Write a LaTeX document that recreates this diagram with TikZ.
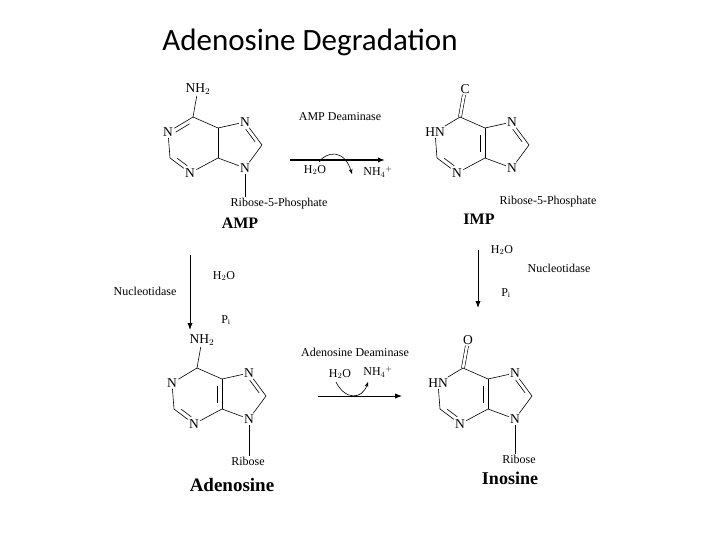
\documentclass[tikz,border=0pt]{standalone}
\usepackage{fontspec}
\setmainfont{Liberation Serif}
\newfontfamily\titlefont{Carlito}
\usetikzlibrary{calc,arrows.meta}
\tikzset{atomlbl/.style={inner sep=1.2pt,font=\fontsize{13.5}{14}\selectfont},
 lbl/.style={inner sep=1pt,font=\fontsize{12}{13}\selectfont},
 bond/.style={line width=0.6pt},
 molname/.style={inner sep=1pt,font=\fontsize{16}{18}\selectfont\bfseries}}
\newcommand\dbl[3]{\draw[bond] (#1)--(#2);
 \draw[bond,shorten <=4pt,shorten >=4pt] ($(#1)!0.17!(#3)$)--($(#2)!0.17!(#3)$);}
\newcommand\purine[7]{%
\begin{scope}[shift={(#2,#3)}]
\coordinate (#1c6) at (0,0);
\node[atomlbl] (#1n1) at (-25,15) {#5};
\coordinate (#1c2) at (-23,41);
\node[atomlbl] (#1n3) at (-3,56) {N};
\coordinate (#1c4) at (25,41);
\coordinate (#1c5) at (25,11);
\node[atomlbl] (#1n7) at (52,5) {N};
\coordinate (#1c8) at (69,28);
\node[atomlbl] (#1n9) at (52,51) {N};
\coordinate (#1h) at (0,28);
\coordinate (#1p) at (42,28);
\node[atomlbl] (#1top) at (5,-28) {#4};
\end{scope}
\ifnum#7=1 \draw[bond,double,double distance=2.5pt] (#1c6)--(#1top);
\else \draw[bond] (#1c6)--(#1top);\fi
\ifnum#6=0 \dbl{#1c6}{#1n1}{#1h}\else \draw[bond] (#1c6)--(#1n1);\fi
\draw[bond] (#1n1)--(#1c2);
\dbl{#1c2}{#1n3}{#1h}
\draw[bond] (#1n3)--(#1c4);
\ifnum#6=0 \draw[bond] (#1c4)--(#1c5);\else \dbl{#1c4}{#1c5}{#1h}\fi
\draw[bond] (#1c5)--(#1c6);
\draw[bond] (#1c5)--(#1n7);
\dbl{#1n7}{#1c8}{#1p}
\draw[bond] (#1c8)--(#1n9);
\draw[bond] (#1n9)--(#1c4);
}
\begin{document}
\begin{tikzpicture}[x=1pt,y=-1pt]
\useasboundingbox (0,0) rectangle (720,540);
\node[font=\titlefont\fontsize{31}{34}\selectfont] (title) at (310,42) {Adenosine Degradation};
% AMP
\purine{a}{193}{117}{NH$_2$}{N}{0}{0}
\node[lbl] (arib) at (279,204) {Ribose-5-Phosphate};
\draw[bond] (an9)--(an9|-arib.north);
\node[molname] (amp) at (240,223) {AMP};
% IMP
\purine{i}{460}{117}{C}{HN}{1}{1}
\node[lbl] (irib) at (548,202) {Ribose-5-Phosphate};
\node[molname] (imp) at (479,219) {IMP};
% Adenosine
\purine{d}{197}{368}{NH$_2$}{N}{2}{0}
\node[lbl] (drib) at (248,461) {Ribose};
\draw[bond] (dn9)--(dn9|-drib.north);
\node[font=\fontsize{19}{20}\selectfont\bfseries,inner sep=1pt] (ado) at (232,485) {Adenosine};
% Inosine
\purine{n}{463}{368}{O}{HN}{3}{1}
\node[lbl] (nrib) at (519,459) {Ribose};
\draw[bond] (nn9)--(nn9|-nrib.north);
\node[font=\fontsize{18}{20}\selectfont\bfseries,inner sep=1pt] (ino) at (510,478) {Inosine};
% top reaction
\node[lbl] (t1) at (340,117) {AMP Deaminase};
\coordinate (ts) at (290,160); \coordinate (te) at (385,160);
\draw[line width=1.6pt,-{Latex[length=7pt]}] (ts)--(te);
\node[lbl] (th) at (315,170) {H$_2$O};
\node[lbl] (tn) at (378,172) {NH$_4{}^+$};
\coordinate (tc2) at (352,174);
\draw[bond,-{Stealth[length=5pt]}] (th.north) ++(4,-2) .. controls (326,152) and (344,148) .. (tc2);
% bottom reaction
\node[lbl] (b1) at (355,352) {Adenosine Deaminase};
\coordinate (bs) at (318,396); \coordinate (be) at (402,396);
\draw[line width=0.9pt,-{Latex[length=7pt]}] (bs)--(be);
\node[lbl] (bh) at (340,374) {H$_2$O};
\node[lbl] (bn) at (378,372) {NH$_4{}^+$};
\coordinate (bc2) at (368,382);
\draw[bond,-{Stealth[length=5pt]}] (bh.south) ++(-4,2) .. controls (345,400) and (362,400) .. (bc2);
% left vertical
\coordinate (ls) at (190,255); \coordinate (le) at (190,330);
\draw[line width=0.9pt,-{Latex[length=7pt]}] (ls)--(le);
\node[lbl] (lh) at (224,276) {H$_2$O};
\node[lbl] (ln) at (145,291) {Nucleotidase};
\node[lbl] (lp) at (226,320) {P$_\mathrm{i}$};
% right vertical
\coordinate (rs) at (478,250); \coordinate (re) at (478,308);
\draw[line width=0.9pt,-{Latex[length=7pt]}] (rs)--(re);
\node[lbl] (rh) at (502,250) {H$_2$O};
\node[lbl] (rn) at (559,268) {Nucleotidase};
\node[lbl] (rp) at (506,293) {P$_\mathrm{i}$};
\end{tikzpicture}
\end{document}
